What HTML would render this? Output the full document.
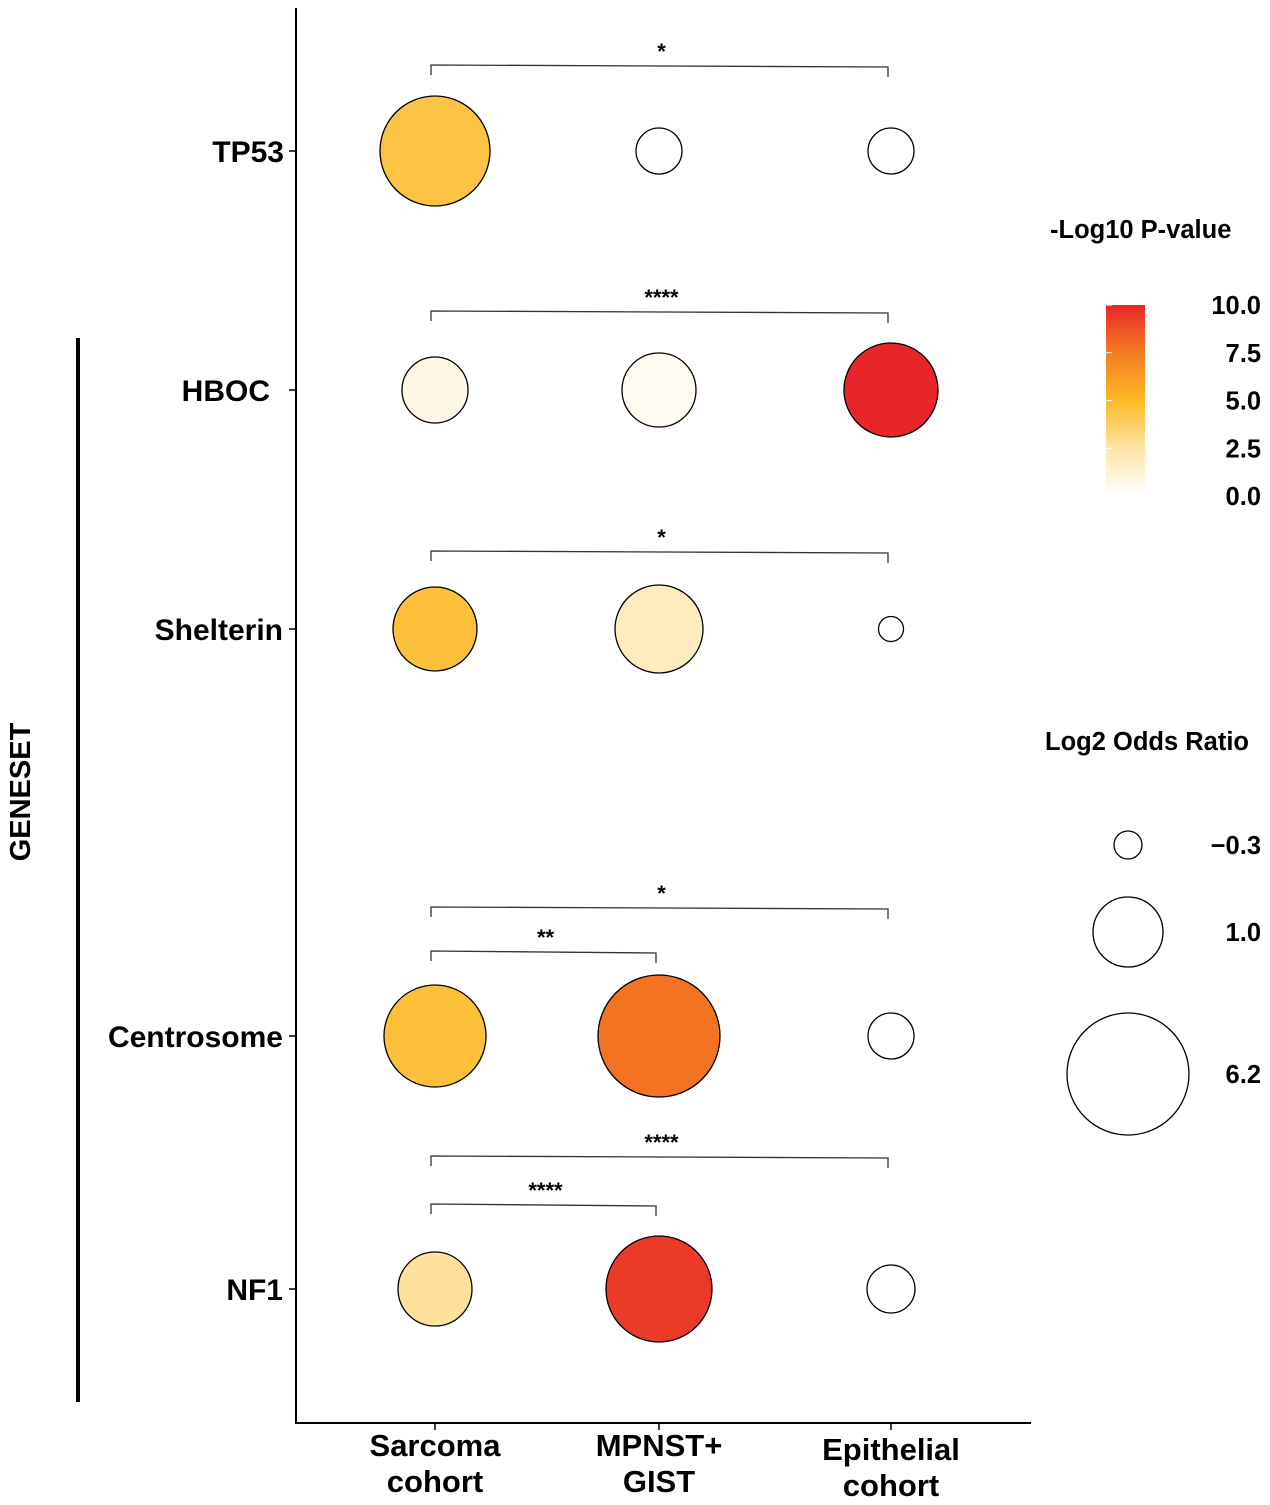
<!DOCTYPE html>
<html><head><meta charset="utf-8"><style>
body{margin:0;background:#fff;}
svg{display:block;font-family:"Liberation Sans",Arial,sans-serif;}
</style></head><body>
<svg id="chart" width="1270" height="1505" viewBox="0 0 1270 1505">
<defs>
<linearGradient id="pgrad" x1="0" y1="1" x2="0" y2="0">
<stop offset="0" stop-color="#ffffff"/>
<stop offset="0.25" stop-color="#fde4a6"/>
<stop offset="0.5" stop-color="#fdb926"/>
<stop offset="0.75" stop-color="#f47d22"/>
<stop offset="1" stop-color="#e8262a"/>
</linearGradient>
</defs>
<g id="axes">
<line x1="296" y1="8" x2="296" y2="1424" stroke="#000" stroke-width="2"/>
<line x1="295" y1="1423" x2="1031" y2="1423" stroke="#000" stroke-width="2"/>
<line x1="78" y1="338" x2="78" y2="1402" stroke="#000" stroke-width="4"/>
<text x="30" y="792" transform="rotate(-90 30 792)" text-anchor="middle" font-size="29" font-weight="bold">GENESET</text>
</g>
<g id="marks"></g>
<g id="legend">
<text x="1050" y="238" font-size="25.5" font-weight="bold">-Log10 P-value</text>
<rect x="1106" y="305" width="39" height="191" fill="url(#pgrad)"/>
<text x="1045" y="750" font-size="25.5" font-weight="bold">Log2 Odds Ratio</text>
</g>
</svg>
<script>
const categories = ["Sarcoma cohort", "MPNST+ GIST", "Epithelial cohort"];
const genesets = ["TP53", "HBOC", "Shelterin", "Centrosome", "NF1"];
const log2OR = [
  [4.75, 0.12, 0.12],
  [0.83, 1.3, 3.05],
  [2.12, 2.48, -0.35],
  [3.87, 6.2, 0.12],
  [1.3, 4.3, 0.18]
];
const negLog10P = [
  [4.4, 0, 0],
  [0.7, 0.4, 10],
  [4.6, 1.8, 0],
  [4.6, 7.8, 0],
  [2.7, 9.4, 0]
];
const colorTicks = [0, 2.5, 5, 7.5, 10];
const sizeBreaks = [-0.3, 1.0, 6.2];
const sizeLabels = ["\u22120.3", "1.0", "6.2"];
// brackets: [row, fromCol, toCol, label, level]
const brackets = [
  [0, 0, 2, "*", 0],
  [1, 0, 2, "****", 0],
  [2, 0, 2, "*", 0],
  [3, 0, 2, "*", 0],
  [3, 0, 1, "**", 1],
  [4, 0, 2, "****", 0],
  [4, 0, 1, "****", 1]
];

const NS = "http://www.w3.org/2000/svg";
const colX = [435, 659, 891];
const rowY = [151, 390, 629, 1036, 1289];
const xScale = i => colX[i];
const yScale = j => rowY[j];
const sizeR = [14, 35, 61];
function rScale(v) {
  const a2 = sizeR.map(r => r * r);
  let k = v <= sizeBreaks[1] ? 0 : 1;
  const t = (v - sizeBreaks[k]) / (sizeBreaks[k + 1] - sizeBreaks[k]);
  return Math.sqrt(Math.max(20, a2[k] + t * (a2[k + 1] - a2[k])));
}
const cStops = [[0, [255,255,255]], [2.5, [253,228,166]], [5, [253,185,38]], [7.5, [244,125,34]], [10, [232,38,42]]];
function colorScale(p) {
  p = Math.max(0, Math.min(10, p));
  for (let i = 0; i < cStops.length - 1; i++) {
    const [a, ca] = cStops[i], [b, cb] = cStops[i + 1];
    if (p <= b) {
      const t = (p - a) / (b - a);
      return "rgb(" + ca.map((c, k) => Math.round(c + t * (cb[k] - c))).join(",") + ")";
    }
  }
}
const barY = p => 496 - p / 10 * 191;

function mk(tag, attrs, parent, text) {
  const e = document.createElementNS(NS, tag);
  for (const k in attrs) e.setAttribute(k, attrs[k]);
  if (text !== undefined) e.textContent = text;
  parent.appendChild(e);
  return e;
}
const marks = document.getElementById("marks");
const legend = document.getElementById("legend");

const labelRight = [284, 270, 283, 283, 283];
genesets.forEach((g, j) => {
  const t = mk("text", {x: labelRight[j], y: yScale(j) + 11, "text-anchor": "end", "font-size": 30, "font-weight": "bold"}, marks, g);
  
  
  const tk = mk("line", {x1: 289, x2: 296, y1: yScale(j), y2: yScale(j), stroke: "#000", "stroke-width": 1.5}, marks);
  
  
});

const xl = [["Sarcoma", "cohort"], ["MPNST+", "GIST"], ["Epithelial", "cohort"]];
categories.forEach((c, i) => {
  const tk = mk("line", {x1: xScale(i), x2: xScale(i), y1: 1423, y2: 1430, stroke: "#000", "stroke-width": 1.5}, marks);
  
  
  const t = mk("text", {x: xScale(i), y: 1456 + (i === 2 ? 4 : 0), "text-anchor": "middle", "font-size": 31, "font-weight": "bold"}, marks);
  
  
  mk("tspan", {x: xScale(i), dy: 0}, t, xl[i][0]);
  mk("tspan", {x: xScale(i), dy: 36}, t, xl[i][1]);
});

genesets.forEach((g, j) => {
  categories.forEach((c, i) => {
    const e = mk("circle", {cx: xScale(i), cy: yScale(j), r: rScale(log2OR[j][i]), fill: colorScale(negLog10P[j][i]), stroke: "#000", "stroke-width": 1.3}, marks);
    
    
  });
});

brackets.forEach(b => {
  const [row, a, c, lab, lvl] = b;
  const y = yScale(row) - (row === 0 ? 86 : row === 1 ? 79 : 78) - (lvl === 0 && (row === 3 || row === 4) ? (row === 3 ? 51 : 55) : 0) - (lvl === 1 ? 7 : 0);
  const x1 = xScale(a) - 4, x2 = xScale(c) - 3;
  const p = mk("path", {d: `M${x1},${y + 10} L${x1},${y} L${x2},${y + 2} L${x2},${y + 12}`, fill: "none", stroke: "#333", "stroke-width": 1.3}, marks);
  
  
  const t = mk("text", {x: (x1 + x2) / 2 + 2, y: y - 6, "text-anchor": "middle", "font-size": 22, "font-weight": "bold"}, marks, lab);
  
  
});

colorTicks.forEach(v => {
  const t = mk("text", {x: 1261, y: barY(v) + 9, "text-anchor": "end", "font-size": 25.5, "font-weight": "bold"}, legend, v.toFixed(1));
  
  
  const l = mk("line", {x1: 1106, x2: 1112, y1: barY(v), y2: barY(v), stroke: "#fff", "stroke-width": 1}, legend);
  
  
});

const legY = [845, 932, 1074];
sizeBreaks.forEach((v, k) => {
  const c = mk("circle", {cx: 1128, cy: legY[k], r: rScale(v), fill: "#fff", stroke: "#000", "stroke-width": 1.3}, legend);
  
  
  const t = mk("text", {x: 1261, y: legY[k] + 9, "text-anchor": "end", "font-size": 25.5, "font-weight": "bold"}, legend, sizeLabels[k]);
  
  
});
</script>
</body></html>
